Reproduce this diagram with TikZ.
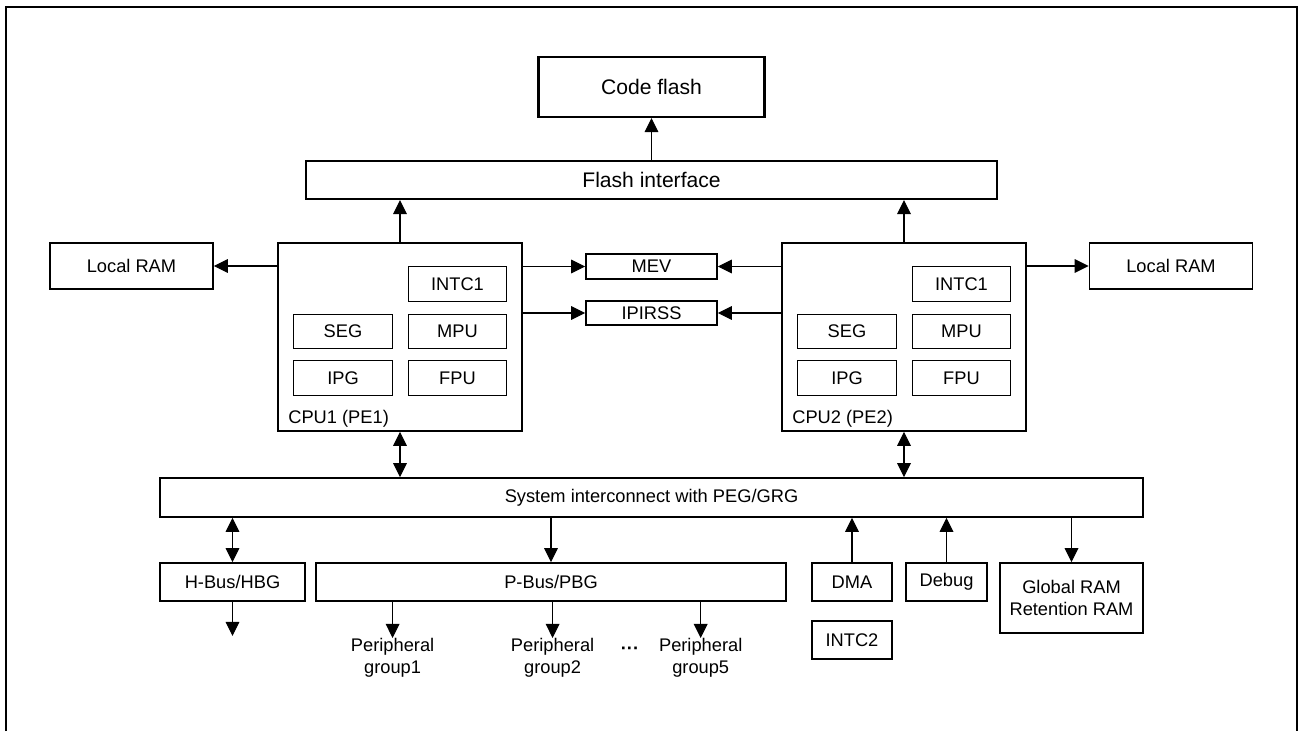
\documentclass[tikz,border=0pt]{standalone}
\usepackage{fontspec}
\setmainfont{Liberation Sans}
\usetikzlibrary{arrows.meta,positioning}

\begin{document}
\begin{tikzpicture}[x=0.02cm, y=-0.02cm,
      block/.style={draw, line width=1pt, inner sep=0pt, align=center, font=\fontsize{10.4}{12.6}\selectfont},
      bigblock/.style={block, line width=1.2pt, font=\fontsize{12}{14}\selectfont},
      unit/.style={block, line width=0.7pt, minimum width=1.97cm, minimum height=0.69cm},
      txt/.style={inner sep=0pt, align=center, font=\fontsize{10.4}{12.6}\selectfont},
      arrowstyle/.style={-{Triangle[length=8pt,width=7.8pt]}, line width=0.6pt},
      bothstyle/.style={{Triangle[length=8pt,width=7.8pt]}-{Triangle[length=8pt,width=7.8pt]}, line width=0.6pt}
    ]
    \useasboundingbox (0,0) rectangle (1301,731);
    \draw[line width=1.4pt] (6,731) -- (6,7) -- (1297,7) -- (1297,731);

    \node[bigblock, minimum width=4.52cm, minimum height=1.2cm] (codeflash) at (651.5,87) {Code flash};
    \node[bigblock, minimum width=13.82cm, minimum height=0.76cm] (flashif) at (651.5,180) {Flash interface};

    \node[block, minimum width=3.26cm, minimum height=0.92cm] (lram1) at (131.5,266) {Local RAM};
    \node[block, minimum width=3.26cm, minimum height=0.92cm] (lram2) at (1171,266) {Local RAM};

    \node[block, minimum width=4.88cm, minimum height=3.76cm] (cpu1) at (400,337) {};
    \node[txt, anchor=base west] (cpu1lbl) at (288,423) {CPU1 (PE1)};
    \node[unit] (intc1a) at (457.5,284) {INTC1};
    \node[unit] (sega) at (343,331.5) {SEG};
    \node[unit] (mpua) at (457.5,331.5) {MPU};
    \node[unit] (ipga) at (343,378) {IPG};
    \node[unit] (fpua) at (457.5,378) {FPU};

    \node[block, minimum width=4.88cm, minimum height=3.76cm] (cpu2) at (904,337) {};
    \node[txt, anchor=base west] (cpu2lbl) at (792,423) {CPU2 (PE2)};
    \node[unit] (intc1b) at (961.5,284) {INTC1};
    \node[unit] (segb) at (847,331.5) {SEG};
    \node[unit] (mpub) at (961.5,331.5) {MPU};
    \node[unit] (ipgb) at (847,378) {IPG};
    \node[unit] (fpub) at (961.5,378) {FPU};

    \node[block, minimum width=2.62cm, minimum height=0.5cm] (mev) at (651.5,266.5) {MEV};
    \node[block, minimum width=2.62cm, minimum height=0.48cm] (ipirss) at (651.5,313) {IPIRSS};

    \node[block, minimum width=19.66cm, minimum height=0.78cm] (sys) at (651.5,497.5) {System interconnect with PEG/GRG};

    \node[block, minimum width=2.9cm, minimum height=0.76cm] (hbus) at (232.5,582) {H-Bus/HBG};
    \node[block, minimum width=9.4cm, minimum height=0.76cm] (pbus) at (551,582) {P-Bus/PBG};
    \node[block, minimum width=1.6cm, minimum height=0.76cm] (dma) at (852,582) {DMA};
    \node[block, minimum width=1.62cm, minimum height=0.76cm] (debug) at (946.5,582) {Debug};
    \node[block, minimum width=2.86cm, minimum height=1.4cm] (gram) at (1071.5,598) {Global RAM\\Retention RAM};
    \node[block, minimum width=1.6cm, minimum height=0.76cm] (intc2) at (852,640) {INTC2};

    \node[txt, anchor=north] (pg1) at (392.6,638) {Peripheral\\group1};
    \node[txt, anchor=north] (pg2) at (552.6,638) {Peripheral\\group2};
    \node[txt, anchor=north] (pg5) at (700.7,638) {Peripheral\\group5};
    \node[txt] (dots) at (630,651) {\textbf{···}};
    \coordinate (hbusout) at (232.5,636);

    \draw[arrowstyle] (flashif.north) -- (codeflash.south);
    \draw[arrowstyle] (cpu1.north) -- (cpu1.north |- flashif.south);
    \draw[arrowstyle] (cpu2.north) -- (cpu2.north |- flashif.south);
    \draw[arrowstyle] (cpu1.west |- lram1) -- (lram1);
    \draw[arrowstyle] (cpu2.east |- lram2) -- (lram2);
    \draw[arrowstyle] (cpu1.east |- mev) -- (mev);
    \draw[arrowstyle] (cpu2.west |- mev) -- (mev);
    \draw[arrowstyle] (cpu1.east |- ipirss) -- (ipirss);
    \draw[arrowstyle] (cpu2.west |- ipirss) -- (ipirss);
    \draw[bothstyle] (cpu1.south) -- (cpu1.south |- sys.north);
    \draw[bothstyle] (cpu2.south) -- (cpu2.south |- sys.north);
    \draw[bothstyle] (hbus.north) -- (hbus.north |- sys.south);
    \draw[arrowstyle] (pbus.north |- sys.south) -- (pbus.north);
    \draw[arrowstyle] (dma.north) -- (dma.north |- sys.south);
    \draw[arrowstyle] (debug.north) -- (debug.north |- sys.south);
    \draw[arrowstyle] (gram.north |- sys.south) -- (gram.north);
    \draw[arrowstyle] (hbus.south) -- (hbusout);
    \draw[arrowstyle] (pbus.south -| pg1.north) -- (pg1.north);
    \draw[arrowstyle] (pbus.south -| pg2.north) -- (pg2.north);
    \draw[arrowstyle] (pbus.south -| pg5.north) -- (pg5.north);
  \end{tikzpicture}
\end{document}
